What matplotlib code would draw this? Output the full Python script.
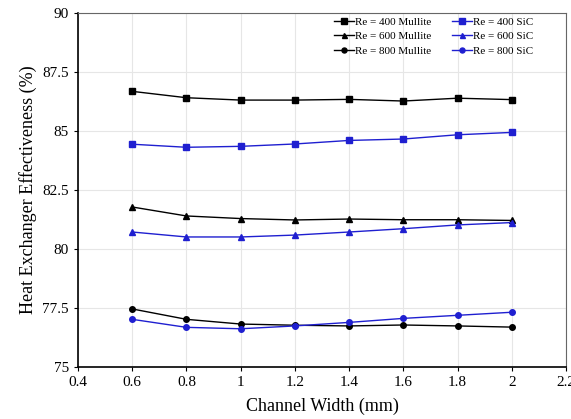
import numpy as np
import matplotlib.pyplot as plt

plt.rcParams['font.family'] = ['Liberation Serif', 'DejaVu Serif']

width = [0.6, 0.8, 1.0, 1.2, 1.4, 1.6, 1.8, 2.0]

re400_mullite = [86.68, 86.41, 86.31, 86.31, 86.34, 86.27, 86.39, 86.33]
re400_sic = [84.44, 84.31, 84.35, 84.45, 84.60, 84.66, 84.84, 84.94]
re600_mullite = [81.78, 81.40, 81.29, 81.23, 81.27, 81.24, 81.24, 81.21]
re600_sic = [80.72, 80.51, 80.51, 80.59, 80.72, 80.86, 81.02, 81.12]
re800_mullite = [77.46, 77.02, 76.82, 76.77, 76.74, 76.78, 76.74, 76.69]
re800_sic = [77.02, 76.68, 76.62, 76.74, 76.89, 77.06, 77.19, 77.32]

fig = plt.figure(figsize=(5.71, 4.19), dpi=100)
ax = fig.add_axes([78/571, 1 - 367/419, (566-78)/571, (367-13)/419])

blue = '#1f1fd0'
ax.plot(width, re400_mullite, color='black', marker='s', ms=4.5, lw=1, label='Re = 400 Mullite')
ax.plot(width, re600_mullite, color='black', marker='^', ms=4, lw=1, label='Re = 600 Mullite')
ax.plot(width, re800_mullite, color='black', marker='o', ms=4, lw=1, label='Re = 800 Mullite')
ax.plot(width, re400_sic, color=blue, marker='s', ms=4.5, lw=1, label='Re = 400 SiC')
ax.plot(width, re600_sic, color=blue, marker='^', ms=4, lw=1, label='Re = 600 SiC')
ax.plot(width, re800_sic, color=blue, marker='o', ms=4, lw=1, label='Re = 800 SiC')

ax.set_xlim(0.4, 2.2)
ax.set_ylim(75, 90)
ax.set_xticks([0.4, 0.6, 0.8, 1.0, 1.2, 1.4, 1.6, 1.8, 2.0, 2.2])
ax.set_xticklabels(['0.4', '0.6', '0.8', '1', '1.2', '1.4', '1.6', '1.8', '2', '2.2'])
ax.set_yticks([75, 77.5, 80, 82.5, 85, 87.5, 90])
ax.set_yticklabels(['75', '77.5', '80', '82.5', '85', '87.5', '90'])
ax.grid(color='#e6e6e6', lw=0.8)
ax.tick_params(labelsize=11, direction='out', length=3)
for s in ['top', 'right']:
    ax.spines[s].set_color('#666666')
for s in ['left', 'bottom']:
    ax.spines[s].set_linewidth(1.2)

ax.set_xlabel('Channel Width (mm)', fontsize=13, labelpad=6)
ax.set_ylabel('Heat Exchanger Effectiveness (%)', fontsize=13)

ax.legend(ncol=2, frameon=False, fontsize=8, loc='upper left',
          bbox_to_anchor=(326/571, 1 - 9/419), bbox_transform=fig.transFigure,
          handlelength=1.8, handletextpad=0.1, columnspacing=1.9, labelspacing=0.45,
          markerscale=0.9, borderpad=0.2)

fig.savefig('out.png', dpi=100)
